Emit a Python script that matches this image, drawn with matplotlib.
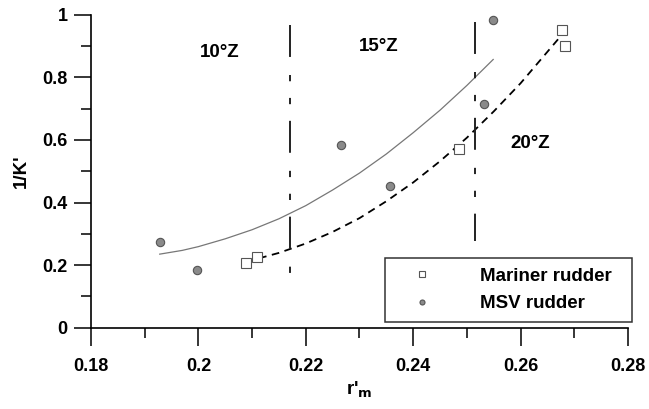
import matplotlib.pyplot as plt
import numpy as np

plt.rcParams['font.family'] = ['Liberation Sans', 'DejaVu Sans']
plt.rcParams['font.weight'] = 'bold'
plt.rcParams['lines.scale_dashes'] = False

# data
mariner_x = [0.2089, 0.2109, 0.2485, 0.2677, 0.2683]
mariner_y = [0.206, 0.227, 0.570, 0.951, 0.901]
msv_x = [0.1928, 0.1998, 0.2265, 0.2356, 0.2531, 0.2548]
msv_y = [0.275, 0.183, 0.583, 0.454, 0.714, 0.983]

# fitted curves, points
msv_fit_x = [0.1928, 0.197, 0.20, 0.205, 0.21, 0.215, 0.22, 0.225, 0.23, 0.235, 0.24, 0.245, 0.25, 0.2549]
msv_fit_y = [0.235, 0.247, 0.259, 0.284, 0.313, 0.348, 0.390, 0.440, 0.494, 0.555, 0.623, 0.695, 0.774, 0.857]
mar_fit_x = [0.2089, 0.212, 0.215, 0.22, 0.225, 0.23, 0.235, 0.24, 0.245, 0.25, 0.255, 0.26, 0.2675]
mar_fit_y = [0.213, 0.225, 0.239, 0.269, 0.306, 0.350, 0.404, 0.464, 0.532, 0.607, 0.691, 0.781, 0.932]

zone_x = [0.2171, 0.2515]
zone_ymin = [0.127, 0.278]
zone_ymax = [0.967, 0.978]
zone_labels = ['10°Z', '15°Z', '20°Z']
zone_label_x = [0.204, 0.2335, 0.2618]
zone_label_y = [0.878, 0.898, 0.587]

fig = plt.figure(figsize=(6.49, 4.09), dpi=100)
ax = fig.add_axes([0.1402, 0.1988, 0.8274, 0.7652])

ax.plot(msv_fit_x, msv_fit_y, color='#777777', lw=0.9)
ax.plot(mar_fit_x, mar_fit_y, color='black', lw=1.3, linestyle=(0, (5.5, 4)))

# zone boundaries, drawn top-down so the dash pattern starts at the top
for x, y0, y1 in zip(zone_x, zone_ymin, zone_ymax):
    ax.plot([x, x], [y1, y0], color='#222222', lw=1.4,
            linestyle=(0, (23, 13, 4.5, 12, 4.5, 12)))

ax.plot(mariner_x, mariner_y, 's', ms=6.5, mfc='white', mec='#555555',
        mew=0.8, label='Mariner rudder')
ax.plot(msv_x, msv_y, 'o', ms=6, mfc='#8a8a8a', mec='#555555',
        mew=0.8, label='MSV rudder')

for t, x, y in zip(zone_labels, zone_label_x, zone_label_y):
    ax.text(x, y, t, ha='center', va='center', fontsize=13.5, fontweight='bold')

ax.set_xlim(0.18, 0.28)
ax.set_ylim(0, 1)
ax.set_xticks(np.arange(0.18, 0.281, 0.02))
ax.set_xticklabels(['0.18', '0.2', '0.22', '0.24', '0.26', '0.28'])
ax.set_xticks(np.arange(0.19, 0.28, 0.02), minor=True)
ax.set_yticks(np.arange(0, 1.01, 0.2))
ax.set_yticklabels(['0', '0.2', '0.4', '0.6', '0.8', '1'])
ax.set_yticks(np.arange(0.1, 1.0, 0.2), minor=True)

ax.spines['top'].set_visible(False)
ax.spines['right'].set_visible(False)
ax.spines['left'].set_linewidth(1.2)
ax.spines['bottom'].set_linewidth(1.2)
ax.tick_params(axis='x', which='major', direction='out', length=13, width=1.1,
               pad=9, labelsize=13)
ax.tick_params(axis='y', which='major', direction='out', length=12, width=1.1,
               pad=5, labelsize=13)
ax.tick_params(which='minor', direction='out', length=7, width=1.1)

ax.set_ylabel("1/K'", fontsize=13.5, fontweight='bold', labelpad=9)
ax.set_xlabel("r'$_{\\mathbf{m}}$", fontsize=13.5, fontweight='bold', labelpad=3)

leg = ax.legend(loc='upper left', bbox_to_anchor=(0.5475, 0.2217, 0.4592, 0),
                mode='expand', borderaxespad=0, fontsize=13.5,
                markerscale=0.6, frameon=True, fancybox=False, handletextpad=1.55,
                borderpad=0.5, handlelength=3.0, labelspacing=0.55)
leg.get_frame().set_edgecolor('black')
leg.get_frame().set_linewidth(1.1)

fig.savefig('out.png', dpi=100)
